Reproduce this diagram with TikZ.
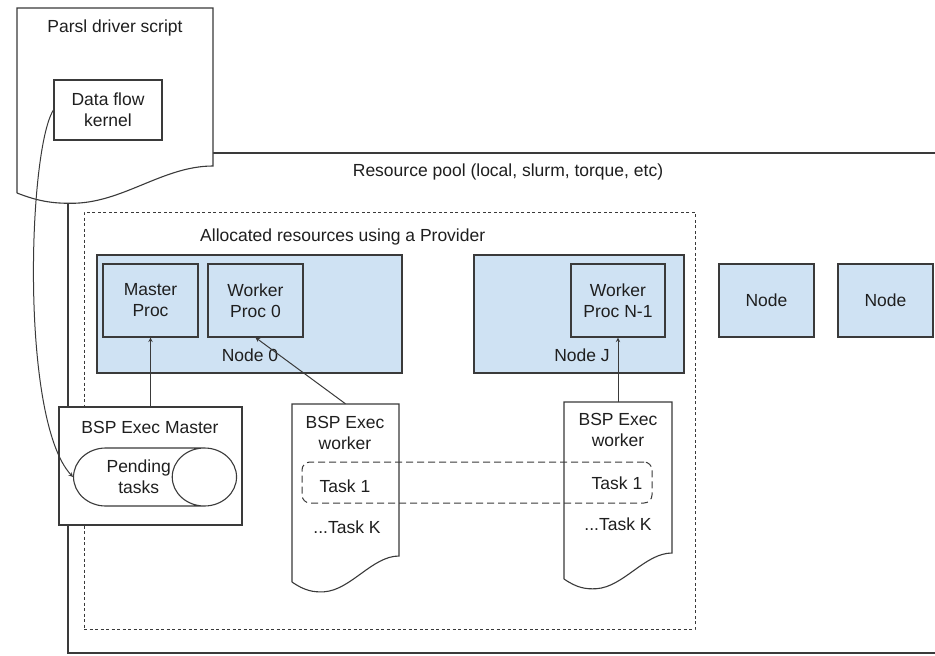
\documentclass[tikz,border=0pt]{standalone}
\usepackage{fontspec}
\setmainfont{Liberation Sans}
\usetikzlibrary{shapes.geometric, arrows, positioning}
\definecolor{nodeblue}{HTML}{CFE2F3}
\definecolor{linegray}{HTML}{3A3A3A}
\definecolor{textgray}{HTML}{1F1F1F}
\tikzstyle{txt} = [font=\fontsize{17.5}{21}\selectfont, text=textgray, align=center, inner sep=0pt]
\tikzstyle{proc} = [rectangle, draw=linegray, fill=nodeblue, line width=1.1pt, txt]
\tikzstyle{plainbox} = [rectangle, draw=linegray, fill=white, line width=1.1pt, inner sep=0pt]
\tikzstyle{docline} = [draw=linegray, fill=white, line width=1.1pt]
\tikzstyle{alloc} = [rectangle, draw=linegray, dash pattern=on 3pt off 2.5pt, line width=1pt, inner sep=0pt]
\tikzstyle{taskgroup} = [rectangle, draw=linegray, dash pattern=on 7pt off 4pt, rounded corners=8pt, line width=1pt, inner sep=0pt]
\tikzstyle{arrow} = [line width=1pt, draw=linegray, ->, >=stealth]

\begin{document}
\begin{tikzpicture}[x=1pt, y=-1pt]
    \clip (0,0) rectangle (935,656);
    \fill[white] (0,0) rectangle (935,656);

    % resource pool and the provider allocation
    \node (pool) [plainbox, minimum width=900, minimum height=500] at (518,403) {};
    \node (pooltitle) [txt] at (508,172) {Resource pool (local, slurm, torque, etc)};
    \node (alloc) [alloc, minimum width=611, minimum height=417] at (389.5,420.5) {};
    \node (alloctitle) [txt, anchor=west] at (200,237) {Allocated resources using a Provider};

    % compute nodes
    \node (node0) [proc, minimum width=305, minimum height=118] at (249.5,314) {};
    \node (masterproc) [proc, minimum width=95, minimum height=73] at (150.5,300.5) {Master\\Proc};
    \node (wp0) [proc, minimum width=95, minimum height=73] at (255.5,300.5) {Worker\\Proc 0};
    \node (node0lbl) [txt] at (250,355) {Node 0};
    \node (nodej) [proc, minimum width=210, minimum height=118] at (579,314) {};
    \node (wpn) [proc, minimum width=94, minimum height=73] at (618,300.5) {Worker\\Proc N-1};
    \node (nodejlbl) [txt] at (582,355) {Node J};
    \node (nodea) [proc, minimum width=95, minimum height=73] at (766.5,300.5) {Node};
    \node (nodeb) [proc, minimum width=95, minimum height=73] at (885.5,300.5) {Node};

    % parsl driver script
    \draw [docline] (17,193) -- (17,8) -- (213,8) -- (213,166)
        .. controls (164,166) and (124.8,201.3) .. (75.8,203.2)
        .. controls (56.2,203.7) and (40.5,202.3) .. (17,193);
    \node (drvtitle) [txt] at (115,28) {Parsl driver script};
    \node (dfk) [plainbox, txt, minimum width=108, minimum height=60] at (108,110) {Data flow\\kernel};

    % executor master
    \node (bspmaster) [plainbox, minimum width=183, minimum height=118] at (150.5,466) {};
    \node (bsptitle) [txt] at (150,427) {BSP Exec Master};
    \node (pending) [cylinder, draw=linegray, line width=1.1pt, fill=white, aspect=1.9,
        minimum width=58, minimum height=163, txt, anchor=west] at (73,477) {Pending\\tasks};

    % executor workers
    \draw [docline] (292,582) -- (292,404) -- (399,404) -- (399,556)
        .. controls (372.3,556) and (350.9,590) .. (324.1,591.8)
        .. controls (313.4,592.3) and (304.8,590.9) .. (292,582);
    \node (wdoc0) [minimum width=107, minimum height=178, inner sep=0pt] at (345.5,493) {};
    \node (w0title) [txt] at (345,433) {BSP Exec\\worker};
    \node (w0task1) [txt] at (345,486) {Task 1};
    \node (w0taskk) [txt] at (347,527) {...Task K};

    \draw [docline] (564,579) -- (564,402) -- (672,402) -- (672,553)
        .. controls (645,553) and (623.4,587) .. (596.4,588.7)
        .. controls (585.6,589.3) and (577,587.9) .. (564,579);
    \node (wdocn) [minimum width=108, minimum height=177, inner sep=0pt] at (618,490.5) {};
    \node (wntitle) [txt] at (618,430) {BSP Exec\\worker};
    \node (wntask1) [txt] at (617,483) {Task 1};
    \node (wntaskk) [txt] at (618,524) {...Task K};

    \node (tasks) [taskgroup, minimum width=350, minimum height=41] at (477,482.5) {};

    \draw [arrow] (bspmaster.north) -- (masterproc.south);
    \draw [arrow] (wdoc0.north) -- (wp0.south);
    \draw [arrow] (wdocn.north) -- (wpn.south);
    \draw [arrow] (dfk.west) .. controls (28,150) and (20,420) .. (pending.west);

\end{tikzpicture}
\end{document}
